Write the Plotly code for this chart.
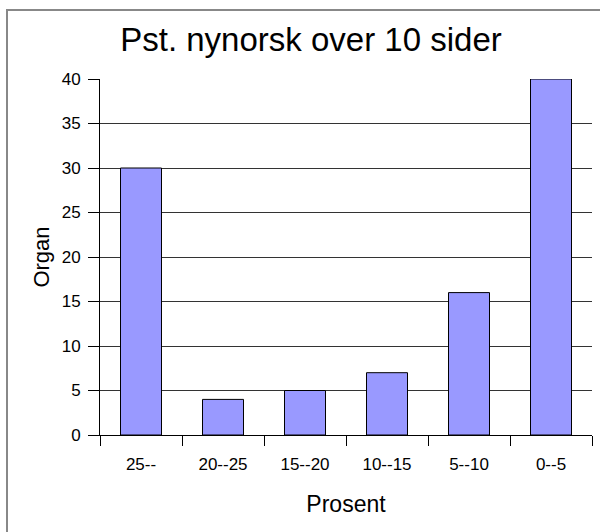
import plotly.graph_objects as go

categories = ["25--", "20--25", "15--20", "10--15", "5--10", "0--5"]
organ_values = [30, 4, 5, 7, 16, 40]
y_tick_values = [0, 5, 10, 15, 20, 25, 30, 35, 40]

FONT = "Liberation Sans, Arial, sans-serif"

fig = go.Figure()
fig.add_trace(go.Bar(
    x=categories,
    y=organ_values,
    marker=dict(color="#9999FF", line=dict(color="black", width=1)),
    width=0.5,
))

# plot area in pixels: x 100..592, y 79..435
L, R, T, B = 100, 8, 79, 97
W, H = 600, 532
pw = W - L - R
ph = H - T - B

def px_x(p):
    return (p - L) / pw

def px_y(p):
    return (H - B - p) / ph

fig.update_layout(
    width=W, height=H,
    margin=dict(l=L, r=R, t=T, b=B),
    paper_bgcolor="white",
    plot_bgcolor="white",
    showlegend=False,
    font=dict(family=FONT, color="black", size=17),
    title=dict(
        text="Pst. nynorsk over 10 sider",
        x=311 / W, xanchor="center", xref="container",
        y=1 - 39 / H, yanchor="middle", yref="container",
        font=dict(size=33, family=FONT, color="black"),
    ),
    xaxis=dict(
        type="category",
        showline=True, linecolor="black", linewidth=1,
        ticks="outside", tickson="boundaries", ticklen=10, tickcolor="black",
        showgrid=False, zeroline=False,
        tickfont=dict(size=17),
        ticklabelstandoff=14,
        title=dict(text="Prosent", font=dict(size=23), standoff=22),
    ),
    yaxis=dict(
        range=[0, 40],
        tickmode="array", tickvals=y_tick_values,
        showline=True, linecolor="black", linewidth=1,
        ticks="outside", ticklen=11, tickcolor="black",
        showgrid=True, gridcolor="#333333", gridwidth=1,
        zeroline=False,
        tickfont=dict(size=17),
        ticklabelstandoff=4,
        title=dict(text="Organ", font=dict(size=22), standoff=5),
    ),
    shapes=[dict(
        type="rect", xref="paper", yref="paper",
        x0=px_x(7), x1=px_x(604), y0=px_y(536), y1=px_y(10),
        line=dict(color="#888888", width=2), fillcolor="rgba(0,0,0,0)",
        layer="below",
    )],
)

fig.write_html(
    "out.html",
    config={"displayModeBar": False},
    post_script="document.body.style.margin='0';",
)
